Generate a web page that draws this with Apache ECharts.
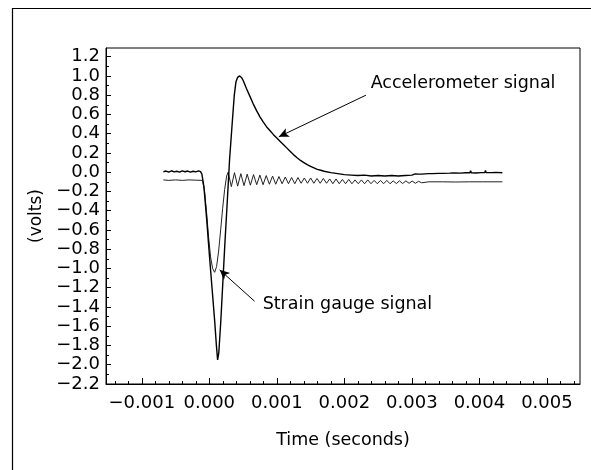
<!DOCTYPE html>
<html>
<head>
<meta charset="utf-8">
<script src="https://cdn.jsdelivr.net/npm/echarts@6/dist/echarts.min.js"></script>
<style>
html,body{margin:0;padding:0;background:#fff;}
#chart{width:591px;height:470px;}
</style>
</head>
<body>
<div id="chart"></div>
<script>
// Time in milliseconds (axis labels show seconds), values in volts
const accelerometer = [
  [-0.68,0.005],[-0.64,0.012],[-0.6,0.0],[-0.56,0.015],[-0.52,0.004],[-0.48,0.01],[-0.44,0.0],[-0.4,0.014],
  [-0.36,0.005],[-0.32,0.012],[-0.28,0.0],[-0.24,0.01],[-0.2,0.004],[-0.16,0.013],[-0.13,0.005],
  [-0.11,-0.02],[-0.08,-0.15],[-0.04,-0.48],[0.0,-0.85],[0.04,-1.2],[0.08,-1.55],[0.105,-1.8],[0.123,-1.95],
  [0.14,-1.88],[0.17,-1.55],[0.2,-1.15],[0.23,-0.75],[0.26,-0.38],[0.29,0.0],[0.3,0.13],[0.335,0.47],
  [0.37,0.8],[0.395,0.94],[0.42,0.985],[0.45,1.0],[0.48,0.98],
  [0.5,0.955],[0.55,0.87],[0.6,0.79],[0.65,0.71],[0.7,0.64],[0.75,0.575],[0.8,0.52],[0.85,0.47],[0.9,0.43],
  [0.95,0.39],[1.0,0.355],[1.05,0.32],[1.1,0.285],[1.15,0.25],[1.2,0.215],[1.25,0.18],[1.3,0.15],[1.35,0.122],
  [1.4,0.1],[1.45,0.078],[1.5,0.06],[1.55,0.045],[1.6,0.03],[1.65,0.02],[1.7,0.01],[1.8,-0.005],[1.9,-0.015],[2.0,-0.025],
  [2.1,-0.03],[2.2,-0.035],[2.3,-0.03],[2.4,-0.04],[2.5,-0.035],[2.6,-0.04],[2.7,-0.035],[2.8,-0.04],[2.9,-0.035],
  [3.0,-0.03],[3.05,-0.018],[3.1,-0.02],[3.14,-0.02],[3.15,0.0],[3.16,-0.02],[3.25,-0.015],[3.3,-0.015],[3.4,-0.012],
  [3.46,-0.012],[3.47,0.008],[3.48,-0.012],[3.56,-0.01],[3.62,-0.008],[3.63,0.012],[3.64,-0.008],
  [3.72,-0.01],[3.8,-0.006],[3.86,-0.006],[3.87,0.015],[3.88,-0.006],[3.95,-0.008],[4.02,-0.004],
  [4.08,-0.004],[4.09,0.018],[4.1,-0.004],[4.18,-0.004],[4.24,-0.002],[4.25,0.015],[4.26,-0.002],[4.34,-0.005]
];
const strainGauge = [
  [-0.68,-0.08],[-0.6,-0.085],[-0.5,-0.08],[-0.4,-0.085],[-0.3,-0.08],[-0.2,-0.083],[-0.1,-0.085],
  [-0.07,-0.2],[-0.04,-0.42],[-0.01,-0.68],[0.019,-0.88],[0.049,-1.0],[0.079,-1.04],[0.108,-0.98],
  [0.138,-0.82],[0.168,-0.6],[0.197,-0.38],[0.227,-0.18],[0.257,-0.04],
  [0.279,0.0],[0.326,-0.15],[0.373,-0.005],[0.42,-0.145],[0.467,-0.015],[0.514,-0.14],[0.561,-0.02],[0.608,-0.135],
  [0.655,-0.025],[0.702,-0.13],[0.749,-0.03],[0.796,-0.13],[0.843,-0.035],[0.89,-0.125],[0.937,-0.04],[0.984,-0.125],
  [1.031,-0.045],[1.078,-0.12],[1.125,-0.05],[1.172,-0.12],[1.219,-0.055],[1.266,-0.12],[1.313,-0.055],[1.36,-0.115],
  [1.407,-0.06],[1.454,-0.115],[1.501,-0.06],[1.548,-0.115],[1.595,-0.065],[1.642,-0.115],[1.689,-0.065],[1.736,-0.115],
  [1.783,-0.07],[1.83,-0.12],[1.877,-0.07],[1.924,-0.12],[1.971,-0.075],[2.018,-0.12],[2.065,-0.075],[2.112,-0.12],
  [2.159,-0.08],[2.206,-0.12],[2.253,-0.08],[2.3,-0.12],[2.347,-0.08],[2.394,-0.12],[2.441,-0.085],[2.488,-0.12],
  [2.535,-0.085],[2.582,-0.12],[2.629,-0.085],[2.676,-0.12],[2.723,-0.09],[2.77,-0.118],[2.817,-0.09],[2.864,-0.118],
  [2.911,-0.09],[2.958,-0.115],[3.005,-0.092],[3.052,-0.115],[3.099,-0.095],[3.146,-0.11],
  [3.25,-0.1],[3.45,-0.1],[3.65,-0.102],[3.85,-0.1],[4.05,-0.1],[4.34,-0.1]
];
const xTickValues = [-1,0,1,2,3,4,5];
const xTickLabels = ['\u22120.001','0.000','0.001','0.002','0.003','0.004','0.005'];
const xMinorTicks = [-1.4,-1.2,-0.8,-0.6,-0.4,-0.2,0.2,0.4,0.6,0.8,1.2,1.4,1.6,1.8,2.2,2.4,2.6,2.8,3.2,3.4,3.6,3.8,4.2,4.4,4.6,4.8,5.2,5.4];
const yTickValues = [-2.2,-2.0,-1.8,-1.6,-1.4,-1.2,-1.0,-0.8,-0.6,-0.4,-0.2,0.0,0.2,0.4,0.6,0.8,1.0,1.2];
const yTickLabels = ['\u22122.2','\u22122.0','\u22121.8','\u22121.6','\u22121.4','\u22121.2','\u22121.0','\u22120.8','\u22120.6','\u22120.4','\u22120.2','0.0','0.2','0.4','0.6','0.8','1.0','1.2'];
const yMinorTicks = [-2.1,-1.9,-1.7,-1.5,-1.3,-1.1,-0.9,-0.7,-0.5,-0.3,-0.1,0.1,0.3,0.5,0.7,0.9,1.1];
const annotations = [
  { text: 'Accelerometer signal', textAt: [2.39, 0.925], from: [2.32, 0.8], to: [1.03, 0.368] },
  { text: 'Strain gauge signal', textAt: [0.79, -1.37], from: [0.67, -1.34], to: [0.153, -1.014] }
];

const FONT = 'DejaVu Sans';
function lookup(values, labels) {
  return function (v) {
    const i = values.findIndex(t => Math.abs(t - v) < 1e-9);
    return i >= 0 ? labels[i] : '';
  };
}
const black = '#000';
const chart = echarts.init(document.getElementById('chart'), null, { renderer: 'canvas' });
chart.setOption({
  animation: false,
  backgroundColor: '#fff',
  textStyle: { fontFamily: FONT },
  grid: { left: 106, right: 11, top: 48, bottom: 86, show: true, borderColor: black, borderWidth: 1, containLabel: false, outerBoundsMode: 'none' },
  xAxis: [
    {
      type: 'value', min: -1.53, max: 5.49, position: 'bottom',
      name: 'Time (seconds)', nameLocation: 'middle', nameGap: 47,
      nameTextStyle: { color: black, fontSize: 17.5, fontFamily: FONT },
      axisLine: { show: true, onZero: false, lineStyle: { color: black, width: 1 } },
      axisTick: { show: true, inside: true, length: 6, customValues: xTickValues, lineStyle: { color: black, width: 1 } },
      axisLabel: { show: true, customValues: xTickValues, formatter: lookup(xTickValues, xTickLabels), color: black, fontSize: 18, fontFamily: FONT, margin: 10 },
      splitLine: { show: false }
    },
    {
      type: 'value', min: -1.53, max: 5.49, position: 'bottom',
      axisLine: { show: false, onZero: false },
      axisTick: { show: true, inside: true, length: 3, customValues: xMinorTicks, lineStyle: { color: black, width: 1 } },
      axisLabel: { show: false },
      splitLine: { show: false }
    }
  ],
  yAxis: [
    {
      type: 'value', min: -2.2, max: 1.29, position: 'left',
      name: '(volts)', nameLocation: 'middle', nameGap: 57,
      nameTextStyle: { color: black, fontSize: 17, fontFamily: FONT },
      axisLine: { show: true, onZero: false, lineStyle: { color: black, width: 1 } },
      axisTick: { show: true, inside: true, length: 5, customValues: yTickValues, lineStyle: { color: black, width: 1 } },
      axisLabel: { show: true, customValues: yTickValues, formatter: lookup(yTickValues, yTickLabels), color: black, fontSize: 18, fontFamily: FONT, margin: 6 },
      splitLine: { show: false }
    },
    {
      type: 'value', min: -2.2, max: 1.29, position: 'left',
      axisLine: { show: false, onZero: false },
      axisTick: { show: true, inside: true, length: 3, customValues: yMinorTicks, lineStyle: { color: black, width: 1 } },
      axisLabel: { show: false },
      splitLine: { show: false }
    }
  ],
  graphic: [
    { type: 'rect', silent: true, z: -1, shape: { x: 12.5, y: 8.5, width: 700, height: 600 }, style: { fill: 'none', stroke: black, lineWidth: 1.2 } }
  ],
  series: [
    {
      type: 'line', name: 'Accelerometer signal', xAxisIndex: 0, yAxisIndex: 0,
      data: accelerometer, symbol: 'none', smooth: false, z: 3,
      lineStyle: { color: black, width: 1.4 }
    },
    {
      type: 'line', name: 'Strain gauge signal', xAxisIndex: 0, yAxisIndex: 0,
      data: strainGauge, symbol: 'none', smooth: false, z: 2,
      lineStyle: { color: '#222', width: 1 }
    },
    {
      type: 'line', name: 'annotations', xAxisIndex: 0, yAxisIndex: 0, data: [], silent: true,
      markLine: {
        silent: true, animation: false,
        symbol: ['none', 'arrow'], symbolSize: [7, 10],
        lineStyle: { color: black, width: 1, type: 'solid' },
        label: { show: false },
        emphasis: { disabled: true },
        data: annotations.map(a => [{ coord: a.from }, { coord: a.to }])
      },
      markPoint: {
        silent: true, animation: false,
        symbol: 'circle', symbolSize: 0,
        itemStyle: { color: 'rgba(0,0,0,0)' },
        label: { show: true, position: 'right', distance: 0, color: black, fontSize: 17.5, fontFamily: FONT, formatter: p => p.name },
        data: annotations.map(a => ({ name: a.text, coord: a.textAt }))
      }
    }
  ]
});
</script>
</body>
</html>
